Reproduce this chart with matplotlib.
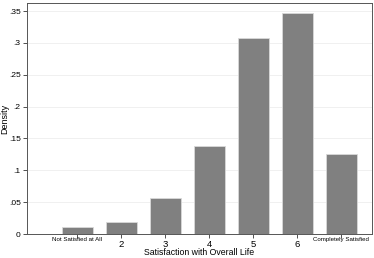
import matplotlib
matplotlib.use("Agg")
import matplotlib.pyplot as plt

## Data
levels = [1, 2, 3, 4, 5, 6, 7]
density = [0.011, 0.019, 0.057, 0.138, 0.308, 0.347, 0.125]
xlabels = ["Not Satisfied at All", "2", "3", "4", "5", "6", "Completely Satisfied"]
yticks = [0, 0.05, 0.1, 0.15, 0.2, 0.25, 0.3, 0.35]
ylabels = ["0", ".05", ".1", ".15", ".2", ".25", ".3", ".35"]

plt.rcParams["font.family"] = ["Liberation Sans", "DejaVu Sans"]

fig = plt.figure(figsize=(3.74, 2.58), dpi=100)
ax = fig.add_axes([0.072, 0.093, 0.923, 0.895])

ax.bar(levels, density, width=0.7, color="#808080", edgecolor="#d9d9d9", linewidth=0.6, zorder=2)

ax.set_xlim(-0.15, 7.7)
ax.set_ylim(0, 0.3626)
ax.set_yticks(yticks)
ax.set_yticklabels(ylabels, fontsize=6)
ax.set_xticks(levels)
ax.set_xticklabels(xlabels, fontsize=6.8)
for lab in ax.get_xticklabels():
    if len(lab.get_text()) > 2:
        lab.set_fontsize(4.4)
        lab.set_y(0.012)

ax.yaxis.grid(True, color="#eeeeee", linewidth=0.6, zorder=0)
ax.tick_params(axis="both", direction="out", length=3, width=0.6, color="#333333", pad=1.5)
for s in ax.spines.values():
    s.set_color("#555555")
    s.set_linewidth(0.7)

ax.set_ylabel("Density", fontsize=6.5)
ax.yaxis.set_label_coords(-0.05, 0.5)
ax.set_xlabel("Satisfaction with Overall Life", fontsize=6.3, va="bottom")
ax.xaxis.set_label_coords(0.5, -0.1)

fig.savefig("out.png", dpi=100)
